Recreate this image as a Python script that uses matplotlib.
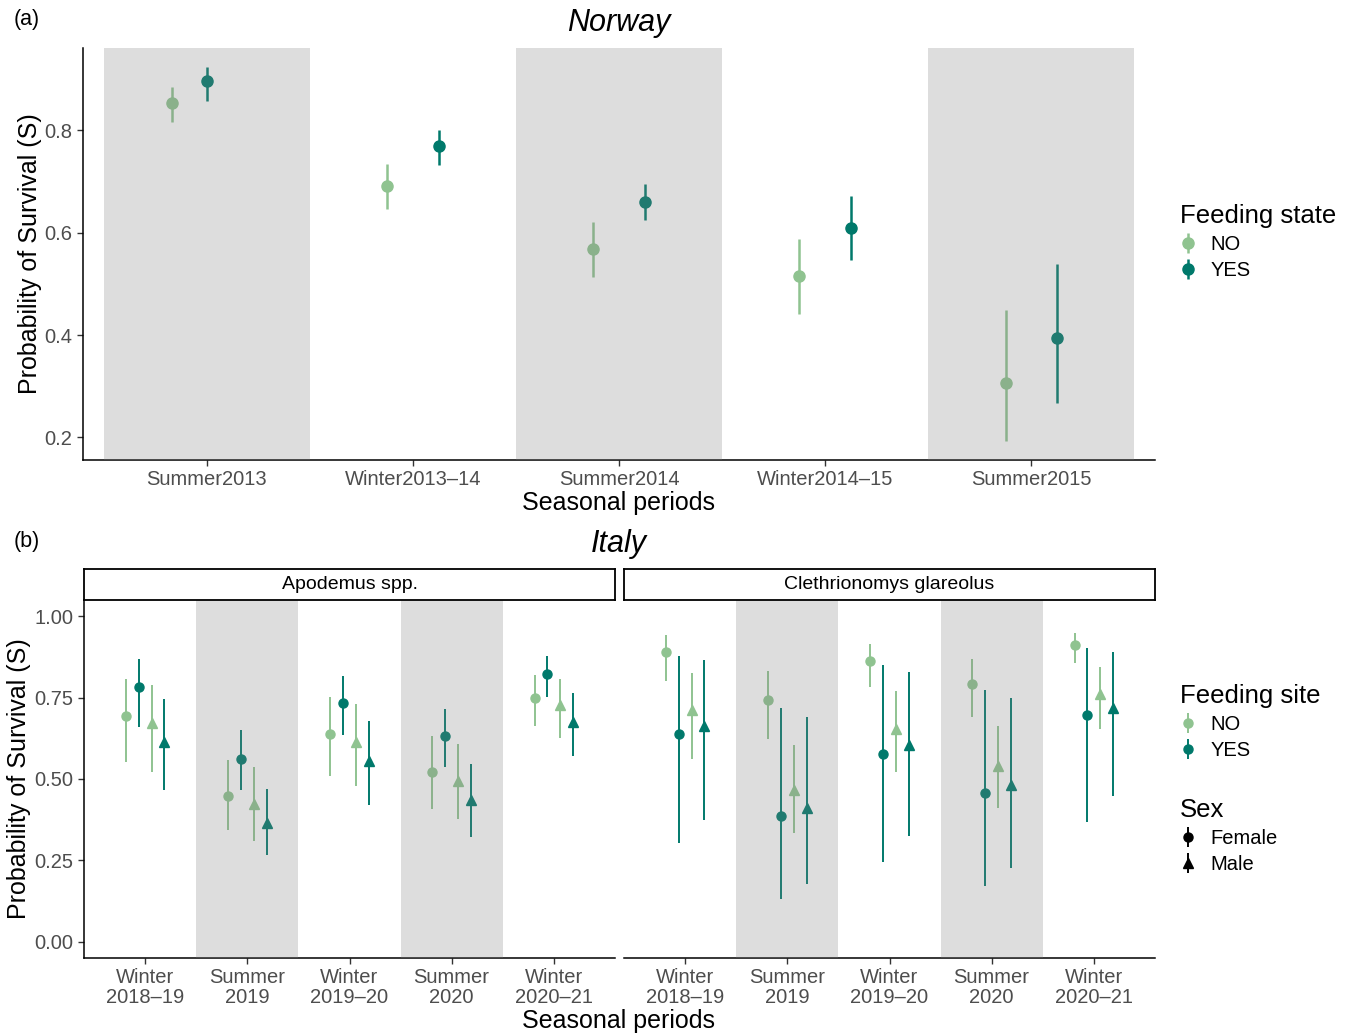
import numpy as np
import matplotlib
matplotlib.use("Agg")
import matplotlib.pyplot as plt

plt.rcParams.update({"font.family": ["Liberation Sans", "DejaVu Sans"]})

NO_COL = "#8fc390"
YES_COL = "#00796b"
BAND_COL = "#7f7f7f"
TICK_COL = "#4d4d4d"

# ---- (a) Norway ----
norway_periods = ["Summer2013", "Winter2013\u201314", "Summer2014", "Winter2014\u201315", "Summer2015"]
norway_no = [0.853, 0.692, 0.569, 0.515, 0.307]
norway_no_lo = [0.816, 0.646, 0.514, 0.441, 0.193]
norway_no_hi = [0.884, 0.734, 0.621, 0.587, 0.449]
norway_yes = [0.896, 0.769, 0.661, 0.610, 0.395]
norway_yes_lo = [0.858, 0.732, 0.625, 0.547, 0.268]
norway_yes_hi = [0.924, 0.801, 0.696, 0.672, 0.539]

# ---- (b) Italy ----
italy_periods = ["Winter\n2018\u201319", "Summer\n2019", "Winter\n2019\u201320", "Summer\n2020", "Winter\n2020\u201321"]
species = ["Apodemus spp.", "Clethrionomys glareolus"]
groups = [("NO", "Female"), ("YES", "Female"), ("NO", "Male"), ("YES", "Male")]

apodemus_mid = [[0.695, 0.448, 0.639, 0.521, 0.748],
                [0.782, 0.560, 0.734, 0.631, 0.823],
                [0.672, 0.423, 0.614, 0.494, 0.728],
                [0.615, 0.364, 0.556, 0.434, 0.676]]
apodemus_lo = [[0.553, 0.343, 0.508, 0.407, 0.662],
               [0.660, 0.467, 0.635, 0.537, 0.751],
               [0.523, 0.311, 0.477, 0.378, 0.625],
               [0.465, 0.268, 0.420, 0.323, 0.572]]
apodemus_hi = [[0.807, 0.558, 0.753, 0.633, 0.820],
               [0.869, 0.650, 0.815, 0.716, 0.878],
               [0.789, 0.537, 0.731, 0.607, 0.808],
               [0.747, 0.470, 0.679, 0.547, 0.764]]

cleth_mid = [[0.889, 0.742, 0.862, 0.793, 0.913],
             [0.638, 0.385, 0.578, 0.458, 0.697],
             [0.711, 0.467, 0.655, 0.540, 0.762],
             [0.664, 0.411, 0.603, 0.483, 0.719]]
cleth_lo = [[0.800, 0.624, 0.782, 0.692, 0.855],
            [0.303, 0.132, 0.246, 0.172, 0.367],
            [0.561, 0.335, 0.521, 0.410, 0.654],
            [0.375, 0.178, 0.324, 0.227, 0.449]]
cleth_hi = [[0.942, 0.832, 0.916, 0.868, 0.949],
            [0.877, 0.719, 0.850, 0.774, 0.901],
            [0.826, 0.603, 0.769, 0.664, 0.844],
            [0.865, 0.691, 0.829, 0.750, 0.889]]

W, H = 1352, 1036
fig = plt.figure(figsize=(W / 100, H / 100), dpi=100)


def fbox(left, top, right, bottom):
    return [left / W, 1 - bottom / H, (right - left) / W, (bottom - top) / H]


def style_axes(ax, left_axis=True):
    for s in ["top", "right"]:
        ax.spines[s].set_visible(False)
    ax.spines["bottom"].set_linewidth(1.1)
    ax.spines["left"].set_linewidth(1.1)
    ax.tick_params(length=4, width=1, color="#333333", labelsize=14.5, labelcolor=TICK_COL)
    if not left_axis:
        ax.spines["left"].set_visible(False)
        ax.tick_params(axis="y", left=False, labelleft=False)


def pointrange(ax, x, mid, lo, hi, color, marker, ms, lw):
    mid = np.asarray(mid)
    yerr = [mid - np.asarray(lo), np.asarray(hi) - mid]
    return ax.errorbar(x, mid, yerr=yerr, fmt=marker, color=color, ms=ms,
                       elinewidth=lw, capsize=0, zorder=2)


def bands(ax, n, start):
    for i in range(start, n + 1, 2):
        ax.axvspan(i - 0.5, i + 0.5, color=BAND_COL, alpha=0.26, lw=0, zorder=3)


# panel (a)
ax_a = fig.add_axes(fbox(83, 48, 1155, 460))
xa = np.arange(1, len(norway_periods) + 1)
no_shift = np.array([-0.17, -0.125, -0.125, -0.125, -0.125])
yes_shift = np.array([0.0, 0.125, 0.125, 0.125, 0.125])
h_no = pointrange(ax_a, xa + no_shift, norway_no, norway_no_lo, norway_no_hi, NO_COL, "o", 8, 1.8)
h_yes = pointrange(ax_a, xa + yes_shift, norway_yes, norway_yes_lo, norway_yes_hi, YES_COL, "o", 8, 1.8)
bands(ax_a, len(norway_periods), 1)
ax_a.set_xlim(0.4, len(norway_periods) + 0.6)
ax_a.set_ylim(0.156, 0.961)
ax_a.set_xticks(xa)
ax_a.set_xticklabels(norway_periods)
ax_a.set_yticks([0.2, 0.4, 0.6, 0.8])
ax_a.set_yticklabels(["0.2", "0.4", "0.6", "0.8"])
style_axes(ax_a)
ax_a.set_ylabel("Probability of Survival (S)", fontsize=18)
ax_a.yaxis.set_label_coords(-0.038, 0.5)
ax_a.set_xlabel("Seasonal periods", fontsize=18, labelpad=1)

# panel (b)
xb = np.arange(1, len(italy_periods) + 1)
offsets = [-0.1875, -0.0625, 0.0625, 0.1875]
panels = [(84, 615, apodemus_mid, apodemus_lo, apodemus_hi),
          (624, 1155, cleth_mid, cleth_lo, cleth_hi)]
legend_site = []
for k, (l, r, mid, lo, hi) in enumerate(panels):
    ax = fig.add_axes(fbox(l, 600, r, 958))
    for g, (site, sex) in enumerate(groups):
        col = NO_COL if site == "NO" else YES_COL
        mk = "o" if sex == "Female" else "^"
        ms = 6.5 if sex == "Female" else 7.5
        h = pointrange(ax, xb + offsets[g], mid[g], lo[g], hi[g], col, mk, ms, 1.4)
        if k == 0 and sex == "Female":
            legend_site.append(h)
    bands(ax, len(italy_periods), 2)
    ax.set_xlim(0.4, len(italy_periods) + 0.6)
    ax.set_ylim(-0.05, 1.05)
    ax.set_xticks(xb)
    ax.set_xticklabels(italy_periods, linespacing=1.05)
    ax.set_yticks([0, 0.25, 0.5, 0.75, 1.0])
    ax.set_yticklabels(["0.00", "0.25", "0.50", "0.75", "1.00"])
    style_axes(ax, left_axis=(k == 0))
    if k == 0:
        ax.set_ylabel("Probability of Survival (S)", fontsize=18)
        ax.yaxis.set_label_coords(-0.100, 0.5)
        h_f = ax.errorbar([np.nan], [np.nan], yerr=[[np.nan], [np.nan]], fmt="o",
                          color="black", ms=6.5, elinewidth=1.4)
        h_m = ax.errorbar([np.nan], [np.nan], yerr=[[np.nan], [np.nan]], fmt="^",
                          color="black", ms=7.5, elinewidth=1.4)
    # facet strip
    sax = fig.add_axes(fbox(l, 569, r, 600))
    sax.set_xticks([])
    sax.set_yticks([])
    for s in sax.spines.values():
        s.set_linewidth(1.3)
    sax.text(0.5, 0.5, species[k], ha="center", va="center", fontsize=14, transform=sax.transAxes)

fig.text(619 / W, 1 - 1021 / H, "Seasonal periods", ha="center", va="center", fontsize=18)

# titles and panel tags
fig.text(619 / W, 1 - 23 / H, "Norway", ha="center", va="center", fontsize=22, style="italic")
fig.text(619 / W, 1 - 544 / H, "Italy", ha="center", va="center", fontsize=22, style="italic")
fig.text(14 / W, 1 - 20 / H, "(a)", ha="left", va="center", fontsize=15.5)
fig.text(14 / W, 1 - 541 / H, "(b)", ha="left", va="center", fontsize=15.5)

# legends
leg_kw = dict(frameon=False, loc="upper left", fontsize=14.5, title_fontsize=18.5,
              alignment="left", handlelength=0.8, handletextpad=0.7, labelspacing=0.35,
              borderpad=0, borderaxespad=0)
fig.legend([h_no, h_yes], ["NO", "YES"], title="Feeding state",
           bbox_to_anchor=(1180 / W, 1 - 204 / H), **leg_kw)
fig.legend(legend_site, ["NO", "YES"], title="Feeding site",
           bbox_to_anchor=(1180 / W, 1 - 684 / H), **leg_kw)
fig.legend([h_f, h_m], ["Female", "Male"], title="Sex",
           bbox_to_anchor=(1180 / W, 1 - 798 / H), **leg_kw)

fig.savefig("out.png", dpi=100)
